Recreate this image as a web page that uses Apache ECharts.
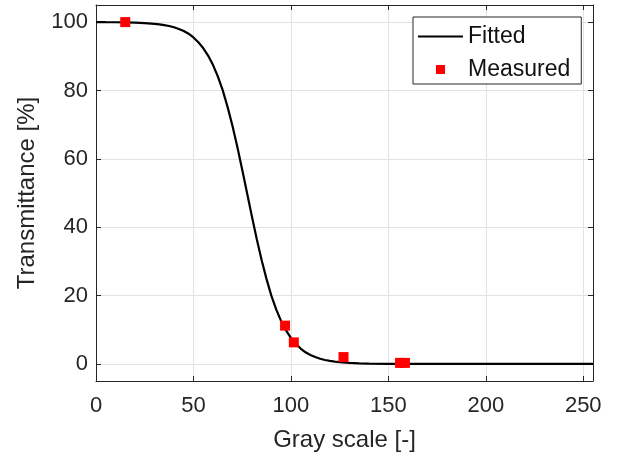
<!DOCTYPE html>
<html>
<head>
<meta charset="utf-8">
<script src="https://cdn.jsdelivr.net/npm/echarts@6/dist/echarts.min.js"></script>
<style>
html,body{margin:0;padding:0;background:#fff;}
#chart{width:622px;height:457px;}
</style>
</head>
<body>
<div id="chart"></div>
<script>
// Fitted curve (gray scale, transmittance %)
var fittedX = [0, 5, 10, 15, 20, 25, 30, 32.5, 35, 37.5, 40, 42.5, 45, 47.5, 50, 52.5, 55, 57.5, 60, 62.5, 65, 67.5, 70, 72.5, 75, 77.5, 80, 82.5, 85, 87.5, 90, 92.5, 95, 97.5, 100, 102.5, 105, 107.5, 110, 112.5, 115, 117.5, 120, 122.5, 125, 130, 135, 140, 150, 160, 180, 200, 220, 240, 255];
var fittedY = [100, 99.97, 99.95, 99.9, 99.83, 99.7, 99.5, 99.35, 99.1, 98.85, 98.5, 98.0, 97.4, 96.6, 95.5, 94.1, 92.4, 90.2, 87.5, 84.1, 80.1, 75.2, 69.7, 63.5, 56.9, 50, 43.1, 36.5, 30.3, 24.8, 19.9, 15.9, 12.5, 9.8, 7.6, 5.9, 4.5, 3.4, 2.6, 2.0, 1.5, 1.15, 0.9, 0.68, 0.5, 0.3, 0.17, 0.1, 0.03, 0, 0, 0, 0, 0, 0];
// Measured points
var measuredX = [15, 97, 101.5, 127, 156, 158.5];
var measuredY = [100, 11.2, 6.3, 2.0, 0.3, 0.3];
// Tick labels
var xTicks = [0, 50, 100, 150, 200, 250];
var yTicks = [0, 20, 40, 60, 80, 100];

var fitted = fittedX.map(function (x, i) { return [x, fittedY[i]]; });
var measured = measuredX.map(function (x, i) { return [x, measuredY[i]]; });

var FONT = "'Liberation Sans', Arial, Helvetica, sans-serif";
var AX = '#262626';
var GRID = '#e2e2e2';

var chart = echarts.init(document.getElementById('chart'), null, {renderer: 'canvas'});
chart.setOption({
  animation: false,
  backgroundColor: '#ffffff',
  textStyle: {fontFamily: FONT},
  grid: {left: 96, right: 29, top: 5, bottom: 76, show: false, containLabel: false, outerBoundsMode: 'none'},
  legend: {
    orient: 'vertical',
    left: 413, top: 17,
    padding: [8, 11, 3, 5],
    itemWidth: 45, itemHeight: 9, itemGap: 10,
    borderColor: AX, borderWidth: 1, backgroundColor: '#fff',
    textStyle: {fontSize: 23, color: '#111', fontFamily: FONT, lineHeight: 22},
    data: [
      {name: 'Fitted', icon: 'path://M0,0h45v2.2h-45z'},
      {name: 'Measured', icon: 'path://M0,0h10v10h-10z'}
    ]
  },
  xAxis: [{
    type: 'value', min: 0, max: 255, position: 'bottom',
    name: 'Gray scale [-]', nameLocation: 'middle', nameGap: 47,
    nameTextStyle: {fontSize: 24, color: AX, fontFamily: FONT},
    axisLine: {show: true, onZero: false, lineStyle: {color: AX, width: 1}},
    axisTick: {show: true, inside: true, length: 5, customValues: xTicks, lineStyle: {color: AX}},
    axisLabel: {fontSize: 22, color: AX, margin: 14, customValues: xTicks, fontFamily: FONT},
    splitLine: {show: true, lineStyle: {color: GRID, width: 1}}
  }, {
    type: 'value', min: 0, max: 255, position: 'top',
    axisLine: {show: true, onZero: false, lineStyle: {color: AX, width: 1}},
    axisTick: {show: true, inside: true, length: 5, customValues: xTicks, lineStyle: {color: AX}},
    axisLabel: {show: false},
    splitLine: {show: false}
  }],
  yAxis: [{
    type: 'value', min: -5, max: 105, position: 'left',
    name: 'Transmittance [%]', nameLocation: 'middle', nameGap: 57, nameRotate: 90,
    nameTextStyle: {fontSize: 24, color: AX, fontFamily: FONT},
    axisLine: {show: true, onZero: false, lineStyle: {color: AX, width: 1}},
    axisTick: {show: true, inside: true, length: 5, customValues: yTicks, lineStyle: {color: AX}},
    axisLabel: {fontSize: 22, color: AX, margin: 8, customValues: yTicks, fontFamily: FONT},
    splitLine: {show: true, lineStyle: {color: GRID, width: 1}}
  }, {
    type: 'value', min: -5, max: 105, position: 'right',
    axisLine: {show: true, onZero: false, lineStyle: {color: AX, width: 1}},
    axisTick: {show: true, inside: true, length: 5, customValues: yTicks, lineStyle: {color: AX}},
    axisLabel: {show: false},
    splitLine: {show: false}
  }],
  series: [{
    name: 'Fitted', type: 'line', data: fitted,
    xAxisIndex: 0, yAxisIndex: 0,
    showSymbol: false, symbol: 'none', smooth: false,
    color: '#000',
    lineStyle: {color: '#000', width: 2.2},
    itemStyle: {color: '#000'},
    z: 2
  }, {
    name: 'Measured', type: 'scatter', data: measured,
    xAxisIndex: 0, yAxisIndex: 0,
    symbol: 'rect', symbolSize: 10,
    color: '#ff0000',
    itemStyle: {color: '#ff0000', opacity: 1},
    z: 3
  }]
});
</script>
</body>
</html>
